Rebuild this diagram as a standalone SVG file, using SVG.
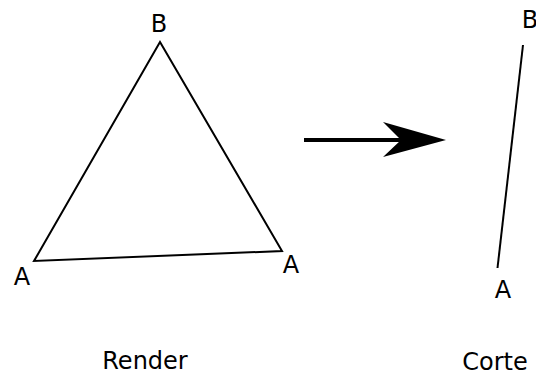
<svg xmlns="http://www.w3.org/2000/svg" width="536" height="374" viewBox="0 0 536 374">
<style>
text{font-family:"DejaVu Sans",sans-serif;font-size:24px;fill:#000;text-anchor:middle}
.ln{fill:none;stroke:#000;stroke-width:2;stroke-linejoin:miter}
</style>
<rect width="536" height="374" fill="#fff"/>
<g id="triangle">
<polygon class="ln" points="160,42 34,261 282,251"/>
<text x="159" y="32">B</text>
<text x="22" y="285">A</text>
<text x="291" y="273">A</text>
<text x="145" y="369">Render</text>
</g>
<g id="segment">
<line class="ln" x1="523" y1="45" x2="497.5" y2="268"/>
<text x="530" y="28">B</text>
<text x="503" y="298">A</text>
<text x="495" y="370">Corte</text>
</g>
<g id="connectors">
<line x1="304" y1="140" x2="402" y2="140" stroke="#000" stroke-width="4"/>
<path d="M446,140 L383,122 L401,140 L383,157 Z" fill="#000"/>
</g>
</svg>
